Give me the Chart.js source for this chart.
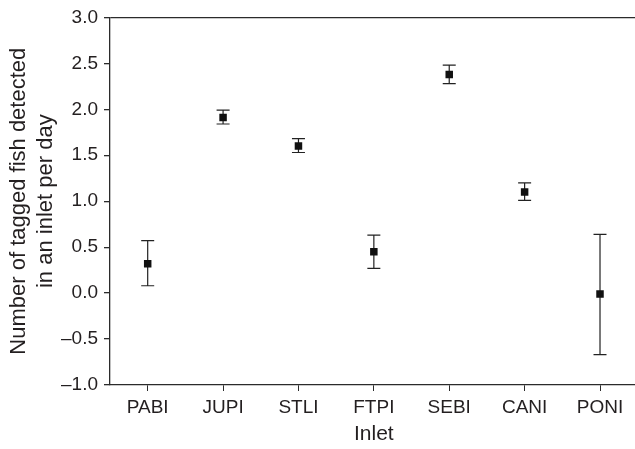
<!DOCTYPE html>
<html>
<head>
<meta charset="utf-8">
<script src="https://cdn.jsdelivr.net/npm/chart.js@4"></script>
<style>
  html, body { margin: 0; padding: 0; background: #fff; overflow: hidden; }
</style>
</head>
<body>
<canvas id="grafico" width="643" height="449"></canvas>
<script>
// datos
const inlets = ['PABI', 'JUPI', 'STLI', 'FTPI', 'SEBI', 'CANI', 'PONI'];
const medias = [0.32, 1.91, 1.60, 0.45, 2.38, 1.10, -0.01];
const superior = [0.57, 1.99, 1.68, 0.63, 2.48, 1.20, 0.64];
const inferior = [0.08, 1.84, 1.53, 0.27, 2.28, 1.01, -0.67];
const ticksY = [-1.0, -0.5, 0.0, 0.5, 1.0, 1.5, 2.0, 2.5, 3.0];

const colorEje = '#2b2b2b';
const colorTexto = '#231f20';
const fuente = "'Liberation Sans', Arial, Helvetica, sans-serif";

// barras de error dibujadas con las escalas del grafico
const barrasError = {
    id: 'barrasError',
    beforeDatasetsDraw(chart) {
        const ctx = chart.ctx;
        const x = chart.scales.x;
        const y = chart.scales.y;
        ctx.save();
        ctx.strokeStyle = '#222';
        ctx.lineWidth = 1.2;
        inlets.forEach((nombre, i) => {
            const px = x.getPixelForValue(i);
            const yTop = y.getPixelForValue(superior[i]);
            const yBot = y.getPixelForValue(inferior[i]);
            ctx.beginPath();
            ctx.moveTo(px, yTop);
            ctx.lineTo(px, yBot);
            ctx.moveTo(px - 6.5, yTop);
            ctx.lineTo(px + 6.5, yTop);
            ctx.moveTo(px - 6.5, yBot);
            ctx.lineTo(px + 6.5, yBot);
            ctx.stroke();
        });
        ctx.restore();
    }
};

function crearGrafico() {
    const ctx = document.getElementById('grafico').getContext('2d');
    new Chart(ctx, {
        type: 'line',
        data: {
            labels: inlets,
            datasets: [{
                data: medias,
                showLine: false,
                pointStyle: 'rect',
                pointRadius: 5.3,
                pointBackgroundColor: '#111',
                pointBorderColor: '#111',
                pointBorderWidth: 0
            }]
        },
        options: {
            responsive: false,
            animation: false,
            layout: { padding: { top: 15, left: 0, right: 0, bottom: 0 } },
            plugins: {
                legend: { display: false },
                tooltip: { enabled: false }
            },
            scales: {
                x: {
                    type: 'category',
                    offset: true,
                    grid: {
                        display: true,
                        offset: false,
                        drawOnChartArea: false,
                        tickLength: 6,
                        color: colorEje
                    },
                    border: { display: true, color: colorEje, width: 1.3 },
                    ticks: {
                        color: colorTexto,
                        padding: 5,
                        maxRotation: 0,
                        font: { family: fuente, size: 19 }
                    },
                    title: {
                        display: true,
                        text: 'Inlet',
                        color: colorTexto,
                        padding: { top: 0, bottom: 3 },
                        font: { family: fuente, size: 21, lineHeight: 1.1 }
                    },
                    afterFit(eje) { eje.height = 64; }
                },
                y: {
                    min: -1,
                    max: 3,
                    afterBuildTicks(eje) {
                        eje.ticks = ticksY.map(v => ({ value: v }));
                    },
                    grid: {
                        display: true,
                        drawOnChartArea: true,
                        tickLength: 6,
                        color: (c) => (c.tick && c.tick.value === 3 ? colorEje : 'rgba(0,0,0,0)'),
                        tickColor: colorEje,
                        lineWidth: 1.3
                    },
                    border: { display: true, color: colorEje, width: 1.3 },
                    ticks: {
                        color: colorTexto,
                        padding: 6,
                        font: { family: fuente, size: 19 },
                        callback: (v) => (v < 0 ? '\u2013' + Math.abs(v).toFixed(1) : v.toFixed(1))
                    },
                    title: {
                        display: true,
                        text: ['Number of tagged fish detected', 'in an inlet per day'],
                        color: colorTexto,
                        padding: { top: 6, bottom: 0 },
                        font: { family: fuente, size: 22, lineHeight: 1.22 }
                    },
                    afterFit(eje) { eje.width = 110; }
                }
            }
        },
        plugins: [barrasError]
    });
}

document.addEventListener('DOMContentLoaded', function() {
    crearGrafico();
});
</script>
</body>
</html>
